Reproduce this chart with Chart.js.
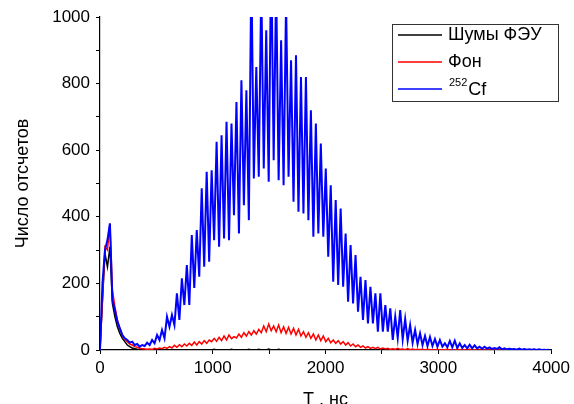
<!DOCTYPE html>
<html>
<head>
<meta charset="utf-8">
<script src="https://cdn.jsdelivr.net/npm/chart.js@4.4.1/dist/chart.umd.min.js"></script>
<style>
  html, body { margin: 0; padding: 0; background: #fff; }
  #chart { display: block; }
</style>
</head>
<body>
<canvas id="chart" width="574" height="404"></canvas>
<script>
// channel width of the analyser, ns
const binWidth = 22;

// counts per channel
const shumy = [0,150,290,250,310,140,100,70,50,35,25,15,10,6,4,2,1,1,1,0,
  1,0,0,1,0,0,1,0,0,0,1,0,0,1,0,0,0,1,0,0,
  1,0,0,1,0,0,2,0,1,0,0,1,0,2,0,1,0,0,1,0,
  2,0,1,0,2,0,1,0,3,0,1,0,2,0,1,0,0,1,0,0,
  1,0,0,1,0,0,0,1,0,0,0,0,1,0,0,0,0,1,0,0,
  0,0,0,1,0,0,0,0,0,0,0,1,0,0,0,0,0,0,0,0,
  0,0,0,0,1,0,0,0,0,0,0,0,0,0,0,0,0,0,0,0,
  0,0,0,0,0,0,0,0,0,0,0,0,0,0,0,0,0,0,0,0,
  0,0,0,0,0,0,0,0,0,0,0,0,0,0,0,0,0,0,0,0,0,0];

const fon = [0,150,310,300,380,180,130,90,65,45,32,25,18,15,10,8,5,4,3,2,
  3,2,5,3,6,4,8,5,10,6,14,8,16,10,18,12,20,14,24,15,
  25,18,28,20,30,25,35,26,38,28,42,30,45,34,40,36,48,38,52,42,
  55,45,58,48,62,52,72,55,78,58,72,55,75,52,70,50,68,48,65,45,
  62,42,55,38,52,35,48,30,45,28,42,25,35,22,30,20,28,18,25,15,
  22,12,18,10,15,8,12,6,10,5,8,4,8,3,6,3,5,2,4,2,
  5,2,3,1,4,1,3,1,2,1,3,0,2,1,1,0,2,0,1,1,
  2,0,1,0,2,1,0,1,0,2,0,1,0,0,1,0,1,0,0,1,
  0,0,1,0,0,1,0,0,0,1,0,0,0,1,0,0,0,0,0,0,1,0];

const cf252 = [0,200,300,330,380,150,120,85,65,45,35,30,22,25,15,18,10,15,12,22,
  15,30,20,45,30,60,35,100,70,105,75,170,90,215,135,255,135,345,186,360,
  220,486,250,535,265,540,330,625,310,645,335,685,330,680,405,745,350,810,435,780,
  390,1150,515,850,520,1100,545,960,505,1200,570,1100,510,930,495,1050,520,870,445,885,
  415,820,410,820,390,720,340,680,350,620,340,545,280,495,205,450,195,425,190,350,
  145,315,140,285,115,220,90,210,80,190,80,170,55,170,55,135,55,125,30,100,
  36,120,32,93,28,75,22,60,18,50,15,42,12,39,12,33,10,30,10,20,
  8,27,8,28,6,20,6,15,5,16,5,14,5,10,4,10,4,8,3,6,
  3,8,2,5,2,4,2,3,1,4,1,3,1,2,1,2,0,2,0,1,0,1];

const times = cf252.map((v, i) => i * binWidth);

const xTicks = [0, 1000, 2000, 3000, 4000];
const yTicks = [0, 200, 400, 600, 800, 1000];

const seriesNames = ['Шумы ФЭУ', 'Фон', '252Cf'];
const seriesColors = ['#000000', '#ff0000', '#0000ff'];

Chart.defaults.font.family = '"Liberation Sans", Arial, sans-serif';
Chart.defaults.color = '#000';

// legend drawn inside the plot, boxed, like the original
const boxLegend = {
  id: 'boxLegend',
  afterDraw(chart) {
    const ctx = chart.ctx;
    const bx = 392, by = 24, bw = 166, bh = 77;
    ctx.save();
    ctx.fillStyle = '#fff';
    ctx.fillRect(bx, by, bw, bh);
    ctx.strokeStyle = '#333';
    ctx.lineWidth = 1;
    ctx.strokeRect(bx + 0.5, by + 0.5, bw, bh);
    chart.data.datasets.forEach((ds, i) => {
      const y = 35 + i * 27;
      ctx.strokeStyle = ds.borderColor;
      ctx.lineWidth = 1.5;
      ctx.beginPath();
      ctx.moveTo(398, y);
      ctx.lineTo(442, y);
      ctx.stroke();
      ctx.fillStyle = '#000';
      ctx.textBaseline = 'middle';
      const m = ds.label.match(/^(\d+)(.*)$/);
      if (m) {
        ctx.font = '11px "Liberation Sans", Arial, sans-serif';
        ctx.fillText(m[1], 449, y - 6);
        const w = ctx.measureText(m[1]).width;
        ctx.font = '18px "Liberation Sans", Arial, sans-serif';
        ctx.fillText(m[2], 449 + w + 1, y + 1);
      } else {
        ctx.font = '18px "Liberation Sans", Arial, sans-serif';
        ctx.fillText(ds.label, 448, y);
      }
    });
    ctx.restore();
  }
};

new Chart(document.getElementById('chart'), {
  type: 'line',
  data: {
    labels: times,
    datasets: [
      { label: seriesNames[0], data: shumy, borderColor: seriesColors[0], borderWidth: 1.5, order: 3 },
      { label: seriesNames[1], data: fon, borderColor: seriesColors[1], borderWidth: 1.5, order: 2 },
      { label: seriesNames[2], data: cf252, borderColor: seriesColors[2], borderWidth: 2, order: 1 }
    ]
  },
  options: {
    responsive: false,
    animation: false,
    elements: { point: { radius: 0 }, line: { tension: 0 } },
    layout: { padding: { top: 17, right: 21, left: 0, bottom: 0 } },
    plugins: { legend: { display: false }, tooltip: { enabled: false } },
    scales: {
      x: {
        type: 'linear',
        min: 0,
        max: 4000,
        afterFit: (s) => { s.height = 54; },
        border: { color: '#000', width: 1.2 },
        grid: { drawOnChartArea: false, tickLength: 4, color: '#000' },
        ticks: {
          stepSize: 500,
          autoSkip: false,
          maxRotation: 0,
          padding: 4,
          font: { size: 17 },
          callback: (v) => xTicks.includes(v) ? v : ''
        },
        title: {
          display: true,
          text: 'T , нс',
          font: { size: 18, lineHeight: 1 },
          padding: { top: 0, bottom: -5 }
        }
      },
      y: {
        min: 0,
        max: 1000,
        afterFit: (s) => { s.width = 100; },
        border: { color: '#000', width: 1.2 },
        grid: { drawOnChartArea: false, tickLength: 4, color: '#000' },
        ticks: {
          stepSize: 100,
          autoSkip: false,
          padding: 6,
          font: { size: 17 },
          callback: (v) => yTicks.includes(v) ? v : ''
        },
        title: {
          display: true,
          text: 'Число отсчетов',
          font: { size: 18, lineHeight: 1 },
          padding: { top: 14, bottom: 0 }
        }
      }
    }
  },
  plugins: [boxLegend]
});
</script>
</body>
</html>
